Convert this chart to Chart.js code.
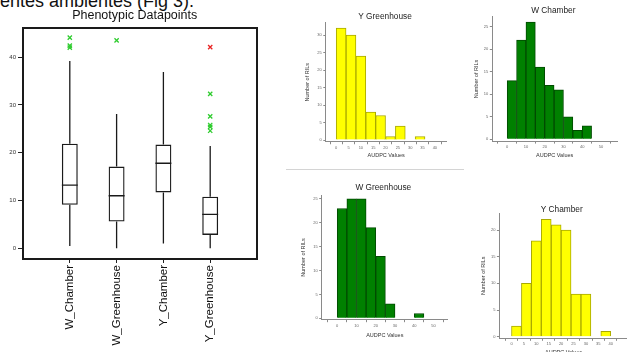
<!DOCTYPE html>
<html>
<head>
<meta charset="utf-8">
<title>Phenotypic Datapoints</title>
<script src="https://cdn.jsdelivr.net/npm/chart.js@4"></script>
<style>
  html, body { margin: 0; padding: 0; background: #fff; }
  body { width: 627px; height: 352px; overflow: hidden; position: relative; font-family: 'Liberation Sans', Arial, sans-serif; }
  canvas { position: absolute; }
  #caption { position: absolute; left: 0; top: -8px; font-size: 18px; line-height: 18px; white-space: nowrap; color: #111; }
  #rule { position: absolute; left: 286px; top: 169px; width: 178px; height: 0; border-top: 1px solid #d4d4d4; }
</style>
</head>
<body>

<div id="caption">entes ambientes (Fig 3).</div>
<div id="rule"></div>

<canvas id="boxChart"></canvas>
<canvas id="histYGreenhouse"></canvas>
<canvas id="histWChamber"></canvas>
<canvas id="histWGreenhouse"></canvas>
<canvas id="histYChamber"></canvas>

<script>
  // box plot, values
  const groups = ['W_Chamber', 'W_Greenhouse', 'Y_Chamber', 'Y_Greenhouse'];
  const whiskerLow = [0.5, 0, 1.0, 0];
  const q1 = [9.1, 5.6, 11.7, 2.8];
  const medians = [13.2, 11.0, 17.8, 7.1];
  const q3 = [21.9, 17.1, 21.7, 10.8];
  const whiskerHigh = [39.2, 28.1, 36.9, 21.4];
  const outlierGroup = ['W_Chamber', 'W_Chamber', 'W_Chamber', 'W_Greenhouse',
    'Y_Greenhouse', 'Y_Greenhouse', 'Y_Greenhouse', 'Y_Greenhouse', 'Y_Greenhouse'];
  const outlierValue = [44.1, 42.4, 42.0, 43.5, 32.3, 27.6, 25.8, 25.4, 24.6];
  const extremeGroup = ['Y_Greenhouse'];
  const extremeValue = [42.1];
  const boxTicks = [0, 10, 20, 30, 40];

  // histograms (number of RILs per AUDPC bin)
  const binStarts4 = [0, 4, 8, 12, 16, 20, 24, 28, 32, 36];
  const binStarts5 = [0, 5, 10, 15, 20, 25, 30, 35, 40];
  const yGreenhouseCounts = [32, 30, 24, 8, 7, 1, 4, 0, 1, 0];
  const wChamberCounts = [13, 22, 26, 16, 12, 11, 5, 2, 3];
  const wGreenhouseCounts = [23, 25, 25, 19, 13, 3, 0, 0, 1];
  const yChamberCounts = [2, 10, 18, 22, 21, 20, 8, 8, 0, 1];
  const ticksBy5 = [0, 5, 10, 15, 20, 25, 30, 35, 40];
  const ticksBy10 = [0, 10, 20, 30, 40, 50];

  const FONT = "'Liberation Sans', Arial, sans-serif";

  // plain text title at a fixed spot on the canvas
  const textTitle = {
    id: 'textTitle',
    afterDraw(chart, args, opts) {
      if (!opts.text) return;
      const ctx = chart.ctx;
      ctx.save();
      ctx.font = opts.size + 'px ' + FONT;
      ctx.fillStyle = opts.color || '#111';
      ctx.textAlign = 'center';
      ctx.textBaseline = 'middle';
      ctx.fillText(opts.text, opts.x, opts.y);
      ctx.restore();
    }
  };

  function placeCanvas(id, box) {
    const cv = document.getElementById(id);
    cv.width = box.x2 - box.x;
    cv.height = box.y2 - box.y;
    cv.style.left = box.x + 'px';
    cv.style.top = box.y + 'px';
    return cv;
  }

  // ---------- box plot ----------
  const catLabels = [''].concat(groups, ['']);

  const boxParts = {
    id: 'boxParts',
    afterDatasetsDraw(chart) {
      const ctx = chart.ctx;
      const x = chart.scales.x, y = chart.scales.y;
      const meta = chart.getDatasetMeta(0);
      ctx.save();
      ctx.strokeStyle = '#1a1a1a';
      ctx.lineWidth = 1.3;
      groups.forEach((g, i) => {
        const cx = x.getPixelForValue(i + 1);
        const half = meta.data[i + 1].width / 2;
        const my = y.getPixelForValue(medians[i]);
        ctx.beginPath();
        ctx.moveTo(cx, y.getPixelForValue(whiskerLow[i]));
        ctx.lineTo(cx, y.getPixelForValue(q1[i]));
        ctx.moveTo(cx, y.getPixelForValue(q3[i]));
        ctx.lineTo(cx, y.getPixelForValue(whiskerHigh[i]));
        ctx.moveTo(cx - half, my);
        ctx.lineTo(cx + half, my);
        ctx.stroke();
      });
      const a = chart.chartArea;
      ctx.lineWidth = 2;
      ctx.strokeRect(a.left, a.top, a.right - a.left, a.bottom - a.top);
      ctx.restore();
    }
  };

  const boxCanvas = placeCanvas('boxChart', { x: 0, y: 0, x2: 270, y2: 352 });
  new Chart(boxCanvas, {
    type: 'bar',
    data: {
      labels: catLabels,
      datasets: [
        {
          type: 'bar',
          data: [null].concat(groups.map((g, i) => [q1[i], q3[i]]), [null]),
          backgroundColor: 'rgba(0,0,0,0)',
          borderColor: '#1a1a1a',
          borderWidth: 1.3,
          borderSkipped: false,
          barPercentage: 0.34,
          categoryPercentage: 1
        },
        {
          type: 'line',
          data: outlierGroup.map((g, i) => ({ x: g, y: outlierValue[i] })),
          showLine: false,
          pointStyle: 'crossRot',
          pointRadius: 3,
          pointBorderWidth: 1.3,
          pointBorderColor: '#2fcc2f',
          pointBackgroundColor: '#2fcc2f'
        },
        {
          type: 'line',
          data: extremeGroup.map((g, i) => ({ x: g, y: extremeValue[i] })),
          showLine: false,
          pointStyle: 'crossRot',
          pointRadius: 3,
          pointBorderWidth: 1.3,
          pointBorderColor: '#e82424',
          pointBackgroundColor: '#e82424'
        }
      ]
    },
    options: {
      responsive: false,
      animation: false,
      layout: { padding: { left: 0, right: 13, top: 28, bottom: 0 } },
      plugins: {
        legend: { display: false },
        tooltip: { enabled: false },
        textTitle: { text: 'Phenotypic Datapoints', size: 12.5, x: 134.7, y: 15.2, color: '#111' }
      },
      scales: {
        x: {
          offset: false,
          afterFit: s => { s.height = 93; },
          border: { display: false },
          grid: { drawOnChartArea: false, offset: false, tickLength: 4, color: '#222' },
          ticks: {
            autoSkip: false, minRotation: 90, maxRotation: 90, padding: 2,
            color: '#111', font: { family: FONT, size: 11.5 },
            callback: (v, i) => catLabels[i] || null
          }
        },
        y: {
          min: -2.24,
          max: 46.1,
          afterBuildTicks: s => { s.ticks = boxTicks.map(v => ({ value: v })); },
          afterFit: s => { s.width = 23; },
          border: { display: false },
          grid: { drawOnChartArea: false, tickLength: 5, color: '#222' },
          ticks: { padding: 2, color: '#333', font: { family: FONT, size: 6 } }
        }
      }
    },
    plugins: [boxParts, textTitle]
  });

  // ---------- histograms ----------
  const AXIS_TITLE = 5.5;
  const AXIS_GRAY = '#8a8a8a';

  function histogram(id, box, spec) {
    const cv = placeCanvas(id, box);
    const lh = AXIS_TITLE * 1.2;
    const p = box.plot;
    const yWidth = p.l - (box.yTitleX - lh / 2);
    const xHeight = box.xTitleY + lh / 2 - p.b;
    new Chart(cv, {
      type: 'bar',
      data: {
        datasets: [{
          data: spec.starts.map((s, i) => ({ x: s + spec.bin / 2, y: spec.counts[i] })),
          backgroundColor: spec.fill,
          borderColor: spec.edge,
          borderWidth: 1,
          barPercentage: 1,
          categoryPercentage: 1
        }]
      },
      options: {
        responsive: false,
        animation: false,
        layout: {
          padding: {
            left: box.yTitleX - lh / 2 - box.x,
            right: box.x2 - p.r,
            top: p.t - box.y,
            bottom: box.y2 - (box.xTitleY + lh / 2)
          }
        },
        plugins: {
          legend: { display: false },
          tooltip: { enabled: false },
          textTitle: { text: spec.title, size: 8.3, x: box.titleX - box.x, y: box.titleY - box.y, color: '#222' }
        },
        scales: {
          x: {
            type: 'linear',
            min: spec.xMin,
            max: spec.xMax,
            afterBuildTicks: s => { s.ticks = spec.xTicks.map(v => ({ value: v })); },
            afterFit: s => { s.height = xHeight; },
            border: { color: AXIS_GRAY, width: 1 },
            grid: { drawOnChartArea: false, tickLength: 2.5, color: AXIS_GRAY },
            ticks: { autoSkip: false, maxRotation: 0, padding: 1, color: '#666', font: { family: FONT, size: 4 } },
            title: { display: true, text: 'AUDPC Values', padding: 0, color: '#333', font: { family: FONT, size: AXIS_TITLE } }
          },
          y: {
            min: spec.yMin,
            max: spec.yMax,
            afterBuildTicks: s => { s.ticks = spec.yTicks.map(v => ({ value: v })); },
            afterFit: s => { s.width = yWidth; },
            border: { color: AXIS_GRAY, width: 1 },
            grid: { drawOnChartArea: false, tickLength: 2.5, color: AXIS_GRAY },
            ticks: { padding: 1.5, color: '#666', font: { family: FONT, size: 4 } },
            title: { display: true, text: 'Number of RILs', padding: 0, color: '#333', font: { family: FONT, size: AXIS_TITLE } }
          }
        }
      },
      plugins: [textTitle]
    });
  }

  histogram('histYGreenhouse',
    { x: 288, y: 2, x2: 453, y2: 167, plot: { l: 325.8, r: 446.5, t: 22.75, b: 141.75 },
      titleX: 385, titleY: 16.7, yTitleX: 307, xTitleY: 155 },
    { title: 'Y Greenhouse', starts: binStarts4, bin: 4, counts: yGreenhouseCounts,
      fill: '#ffff00', edge: '#a9a900', xMin: -1.5, xMax: 42, yMin: -0.5, yMax: 33.5,
      xTicks: ticksBy5, yTicks: [0, 5, 10, 15, 20, 25, 30] });

  histogram('histWChamber',
    { x: 462, y: 0, x2: 627, y2: 167, plot: { l: 492.3, r: 617, t: 16.7, b: 141.1 },
      titleX: 553.3, titleY: 10.7, yTitleX: 476.7, xTitleY: 155 },
    { title: 'W Chamber', starts: binStarts5, bin: 5, counts: wChamberCounts,
      fill: '#008000', edge: '#004a00', xMin: -2.4, xMax: 53, yMin: -0.4, yMax: 27.2,
      xTicks: ticksBy10, yTicks: [0, 5, 10, 15, 20, 25] });

  histogram('histWGreenhouse',
    { x: 288, y: 176, x2: 453, y2: 352, plot: { l: 321.7, r: 447.9, t: 195.1, b: 319.7 },
      titleX: 383.3, titleY: 187.7, yTitleX: 303.3, xTitleY: 335 },
    { title: 'W Greenhouse', starts: binStarts5, bin: 5, counts: wGreenhouseCounts,
      fill: '#008000', edge: '#004a00', xMin: -2.6, xMax: 52, yMin: -0.3, yMax: 25.8,
      xTicks: ticksBy10, yTicks: [0, 5, 10, 15, 20, 25] });

  histogram('histYChamber',
    { x: 462, y: 176, x2: 637, y2: 362, plot: { l: 499.4, r: 627.8, t: 213, b: 338.3 },
      titleX: 561.7, titleY: 210, yTitleX: 483.3, xTitleY: 352.5 },
    { title: 'Y Chamber', starts: binStarts4, bin: 4, counts: yChamberCounts,
      fill: '#ffff00', edge: '#a9a900', xMin: -2, xMax: 44, yMin: -0.3, yMax: 23.2,
      xTicks: ticksBy5, yTicks: [0, 5, 10, 15, 20] });
</script>

</body>
</html>
